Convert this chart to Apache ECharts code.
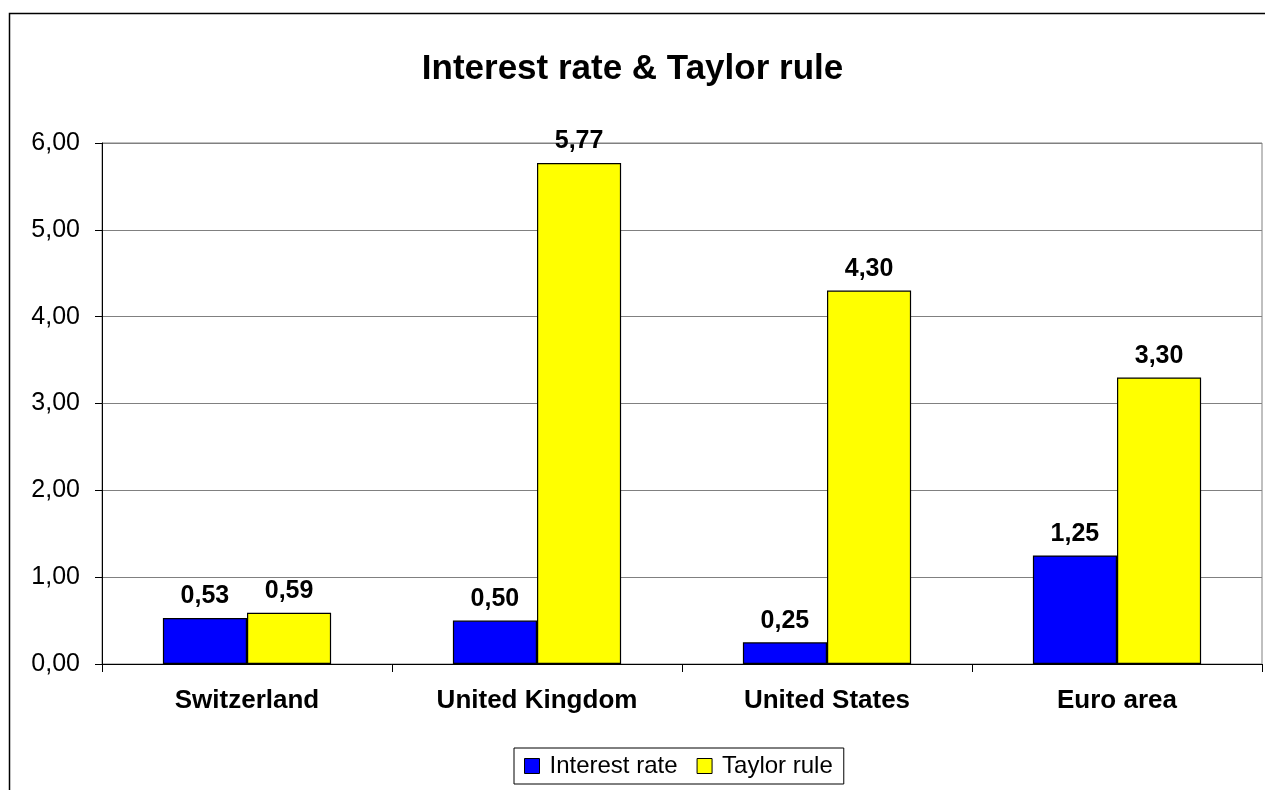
<!DOCTYPE html>
<html><head><meta charset="utf-8">
<script src="https://cdn.jsdelivr.net/npm/echarts@6/dist/echarts.min.js"></script>
<style>html,body{margin:0;padding:0;background:#fff}#c{width:1265px;height:790px}</style>
</head><body><div id="c"></div>
<script>
const categories = ['Switzerland', 'United Kingdom', 'United States', 'Euro area'];
const interestRate = [0.53, 0.50, 0.25, 1.25];
const taylorRule = [0.59, 5.77, 4.30, 3.30];
const seriesNames = ['Interest rate', 'Taylor rule'];
const fmt = v => v.toFixed(2).replace('.', ',');
const font = 'Arial, "Liberation Sans", sans-serif';
const chart = echarts.init(document.getElementById('c'));
const lbl = {show: true, position: 'top', distance: 9, formatter: p => fmt(p.value), fontFamily: font, fontSize: 25, fontWeight: 'bold', color: '#000'};
chart.setOption({
  animation: false,
  title: {text: 'Interest rate & Taylor rule', left: 'center', top: 47, textStyle: {fontFamily: font, fontSize: 35, fontWeight: 'bold', color: '#000'}},
  graphic: [{type: 'rect', shape: {x: 9.5, y: 13.5, width: 1400, height: 900}, style: {fill: 'none', stroke: '#000', lineWidth: 1.5}, silent: true, z: -1}],
  legend: {data: seriesNames, left: 514, top: 748, itemWidth: 15, itemHeight: 15, itemGap: 19, padding: [6, 11, 6, 10], borderColor: '#000', borderWidth: 1, backgroundColor: '#fff', icon: 'rect',
    itemStyle: {borderColor: '#000', borderWidth: 1},
    textStyle: {fontFamily: font, fontSize: 24, color: '#000', padding: [0, 0, 0, 5]}},
  grid: {left: 102, right: 3, top: 143, bottom: 126, containLabel: false, show: true, borderColor: '#808080', borderWidth: 1, backgroundColor: 'transparent'},
  xAxis: {type: 'category', data: categories,
    axisLine: {lineStyle: {color: '#000', width: 1}},
    axisTick: {show: true, length: 8, lineStyle: {color: '#000'}},
    axisLabel: {fontFamily: font, fontSize: 26, fontWeight: 'bold', color: '#000', margin: 24}},
  yAxis: {type: 'value', min: 0, max: 6, interval: 1,
    axisLine: {show: true, lineStyle: {color: '#000', width: 1}},
    axisTick: {show: true, length: 7, lineStyle: {color: '#000'}},
    axisLabel: {formatter: v => fmt(v), fontFamily: font, fontSize: 25, color: '#000', margin: 22},
    splitLine: {lineStyle: {color: '#808080', width: 1}}},
  series: [
    {name: seriesNames[0], type: 'bar', data: interestRate, barGap: '0%', barCategoryGap: '42%',
      itemStyle: {color: '#0000FF', borderColor: '#000', borderWidth: 1.2}, label: lbl},
    {name: seriesNames[1], type: 'bar', data: taylorRule,
      itemStyle: {color: '#FFFF00', borderColor: '#000', borderWidth: 1.2}, label: lbl}
  ]
});
</script></body></html>
